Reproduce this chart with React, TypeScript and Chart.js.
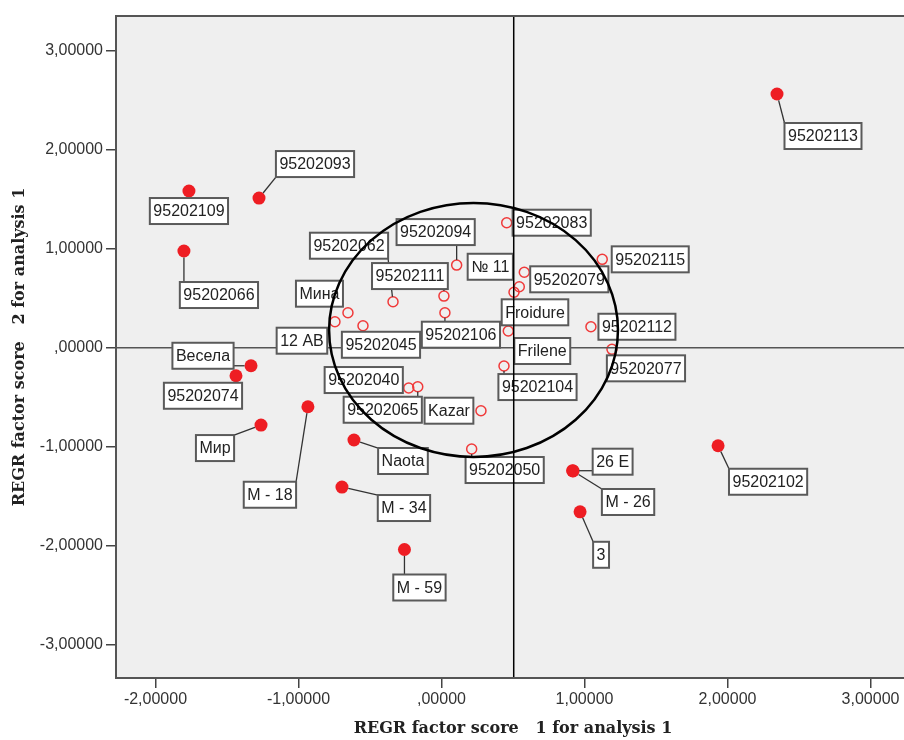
import React, { useEffect, useRef } from 'react';
import { Chart, registerables } from 'chart.js';

Chart.register(...registerables);

// ---- axis ticks ----
const xTicks = [-2, -1, 0, 1, 2, 3];
const yTicks = [-3, -2, -1, 0, 1, 2, 3];

// ---- filled (outside cluster) cases ----
const filledNames = ['95202113', '95202093', '95202109', '95202066', 'Весела', '95202074', 'Мир', 'M - 18', 'Naota', 'M - 34', 'M - 59', '26 E', 'M - 26', '3', '95202102'];
const filledX = [2.346, -1.276, -1.766, -1.801, -1.332, -1.437, -1.262, -0.934, -0.612, -0.696, -0.259, 0.917, 0.92, 0.969, 1.934];
const filledY = [2.563, 1.512, 1.583, 0.977, -0.182, -0.283, -0.781, -0.596, -0.932, -1.407, -2.038, -1.242, -1.245, -1.657, -0.99];

// ---- hollow (inside cluster) cases ----
const hollowNames = ['95202083', '95202094', '95202062', '95202111', '№ 11', '95202079', 'Froidure', 'Мина', '12 AB', '95202045', '95202106', 'Frilene', '95202104', '95202040', '95202065', 'Kazar', '95202050', '95202077', '95202112', '95202115'];
const hollowX = [0.456, 0.106, -0.339, 0.017, 0.544, 0.579, 0.507, -0.654, -0.745, -0.549, 0.024, 0.467, 0.437, -0.229, -0.166, 0.276, 0.211, 1.192, 1.045, 1.124];
const hollowY = [1.263, 0.835, 0.465, 0.522, 0.616, 0.762, 0.56, 0.354, 0.263, 0.222, 0.354, 0.169, -0.185, -0.407, -0.394, -0.636, -1.023, -0.016, 0.212, 0.893];

// ---- label layout (pixel offsets of label box centre from point, leader flag) ----
const filledLabelOffsets = [[46, 42, 1], [56, -34, 1], [0, 20, 1], [35, 44, 1], [-48, -10, 1], [-33, 20, 1], [-46, 23, 1], [-38, 88, 1], [49, 21, 1], [62, 21, 1], [15, 38, 1], [40, -9, 1], [55, 31, 1], [21, 43, 1], [50, 36, 1]];
const hollowLabelOffsets = [[45, 0, 0], [-21, -33, 1], [-44, -56, 1], [-34, -20, 1], [-29, -20, 0], [45, 7, 0], [21, 20, 0], [-28.5, -19, 0], [-33, 19, 0], [18, 19, 1], [16, 22, 1], [34, 20, 0], [33.5, 21, 1], [-45, -8, 0], [-35, 23, 1], [-32, 0, 0], [33, 21, 1], [34, 19, 1], [46, 0, 0], [48, 0, 0]];

// ---- reference lines and cluster ellipse (data units) ----
const refLineX = 0.505;
const refLineY = 0;
const ellipseCenter = [0.224, 0.18];
const ellipseRadii = [1.01, 1.283];

const xTitle = 'REGR factor score   1 for analysis 1';
const yTitle = 'REGR factor score   2 for analysis 1';

const fmt = (v: number) => {
  const s = Math.abs(v).toFixed(5).replace('.', ',');
  const t = s.startsWith('0,') ? s.slice(1) : s;
  return (v < 0 ? '-' : '') + t;
};

const overlay = {
  id: 'overlay',
  beforeDraw(chart: any) {
    const { ctx, chartArea: a } = chart;
    ctx.save();
    ctx.fillStyle = '#EFEFEF';
    ctx.fillRect(a.left, a.top, a.right - a.left, a.bottom - a.top);
    ctx.restore();
  },
  afterDatasetsDraw(chart: any) {
    const { ctx, chartArea: a } = chart;
    const xs = chart.scales.x;
    const ys = chart.scales.y;
    ctx.save();

    // horizontal reference line (beneath labels)
    const hy = ys.getPixelForValue(refLineY);
    ctx.beginPath();
    ctx.moveTo(a.left, hy);
    ctx.lineTo(a.right, hy);
    ctx.strokeStyle = '#555';
    ctx.lineWidth = 1.5;
    ctx.stroke();

    ctx.font = '16px "Liberation Sans", Arial, sans-serif';
    ctx.textAlign = 'center';
    ctx.textBaseline = 'middle';
    const drawGroup = (names: string[], X: number[], Y: number[], offs: number[][], r: number) => {
      names.forEach((name, i) => {
        const px = xs.getPixelForValue(X[i]);
        const py = ys.getPixelForValue(Y[i]);
        const [dx, dy, leader] = offs[i];
        const w = ctx.measureText(name).width + 7;
        const h = 26;
        const cx = px + dx;
        const cy = py + dy;
        const l = cx - w / 2, t = cy - h / 2;
        if (leader) {
          const nx = Math.max(l, Math.min(px, l + w));
          const ny = Math.max(t, Math.min(py, t + h));
          const d = Math.hypot(nx - px, ny - py);
          if (d > r + 1) {
            ctx.beginPath();
            ctx.moveTo(px + ((nx - px) / d) * r, py + ((ny - py) / d) * r);
            ctx.lineTo(nx, ny);
            ctx.strokeStyle = '#333';
            ctx.lineWidth = 1.3;
            ctx.stroke();
          }
        }
        ctx.fillStyle = '#FFFFFF';
        ctx.fillRect(l, t, w, h);
        ctx.strokeStyle = '#5A5A5A';
        ctx.lineWidth = 2;
        ctx.strokeRect(l, t, w, h);
        ctx.fillStyle = '#222';
        ctx.fillText(name, cx, cy + 1);
      });
    };
    drawGroup(filledNames, filledX, filledY, filledLabelOffsets, 6.5);
    drawGroup(hollowNames, hollowX, hollowY, hollowLabelOffsets, 5);

    // vertical reference line (over labels)
    const vx = xs.getPixelForValue(refLineX);
    ctx.beginPath();
    ctx.moveTo(vx, a.top);
    ctx.lineTo(vx, a.bottom);
    ctx.strokeStyle = '#000';
    ctx.lineWidth = 1.5;
    ctx.stroke();

    // ellipse
    const ecx = xs.getPixelForValue(ellipseCenter[0]);
    const ecy = ys.getPixelForValue(ellipseCenter[1]);
    const erx = Math.abs(xs.getPixelForValue(ellipseCenter[0] + ellipseRadii[0]) - ecx);
    const ery = Math.abs(ys.getPixelForValue(ellipseCenter[1] + ellipseRadii[1]) - ecy);
    ctx.beginPath();
    ctx.ellipse(ecx, ecy, erx, ery, 0, 0, Math.PI * 2);
    ctx.strokeStyle = '#000';
    ctx.lineWidth = 2.5;
    ctx.stroke();

    // frame
    ctx.strokeStyle = '#555';
    ctx.lineWidth = 2;
    ctx.strokeRect(a.left, a.top, a.right - a.left, a.bottom - a.top);
    ctx.restore();
  },
};

export default function App() {
  const ref = useRef<HTMLCanvasElement | null>(null);
  useEffect(() => {
    if (!ref.current) return;
    const tickFont = { family: '"Liberation Sans", Arial, sans-serif', size: 16 };
    const titleFont = { family: '"DejaVu Serif", "Liberation Serif", serif', size: 16, weight: 'bold' as const };
    const chart = new Chart(ref.current, {
      type: 'scatter',
      data: {
        datasets: [
          {
            data: filledX.map((x, i) => ({ x, y: filledY[i] })),
            pointRadius: 6.5,
            pointBackgroundColor: '#EE1D23',
            pointBorderColor: '#EE1D23',
            pointBorderWidth: 0,
          },
          {
            data: hollowX.map((x, i) => ({ x, y: hollowY[i] })),
            pointRadius: 5,
            pointBackgroundColor: 'rgba(0,0,0,0)',
            pointBorderColor: '#F03A3A',
            pointBorderWidth: 1.5,
          },
        ],
      },
      options: {
        responsive: false,
        animation: false,
        layout: { padding: { top: 16, right: 10, left: 0, bottom: 0 } },
        plugins: { legend: { display: false }, tooltip: { enabled: false } },
        scales: {
          x: {
            type: 'linear',
            min: -2.276,
            max: 3.276,
            afterBuildTicks: (s: any) => { s.ticks = xTicks.map((v) => ({ value: v })); },
            afterFit: (s: any) => { s.height = 62; },
            ticks: { callback: (v: any) => fmt(Number(v)), font: tickFont, color: '#333', padding: 2, maxRotation: 0, autoSkip: false },
            grid: { drawOnChartArea: false, drawTicks: true, tickLength: 10, color: '#444', lineWidth: 1.5 },
            border: { display: false },
            title: { display: true, text: xTitle, font: titleFont, color: '#222', padding: { top: 0, bottom: 2 } },
          },
          y: {
            type: 'linear',
            min: -3.336,
            max: 3.351,
            afterBuildTicks: (s: any) => { s.ticks = yTicks.map((v) => ({ value: v })); },
            afterFit: (s: any) => { s.width = 116; },
            ticks: { callback: (v: any) => fmt(Number(v)), font: tickFont, color: '#333', padding: 3, autoSkip: false },
            grid: { drawOnChartArea: false, drawTicks: true, tickLength: 10, color: '#444', lineWidth: 1.5 },
            border: { display: false },
            title: { display: true, text: yTitle, font: titleFont, color: '#222', padding: { top: 10, bottom: 0 } },
          },
        },
      },
      plugins: [overlay],
    });
    return () => chart.destroy();
  }, []);
  return (
    <div style={{ position: 'absolute', left: 0, top: 0, width: 904, height: 740, overflow: 'hidden', background: '#fff' }}>
      <canvas ref={ref} width={920} height={740} style={{ display: 'block' }} />
    </div>
  );
}
